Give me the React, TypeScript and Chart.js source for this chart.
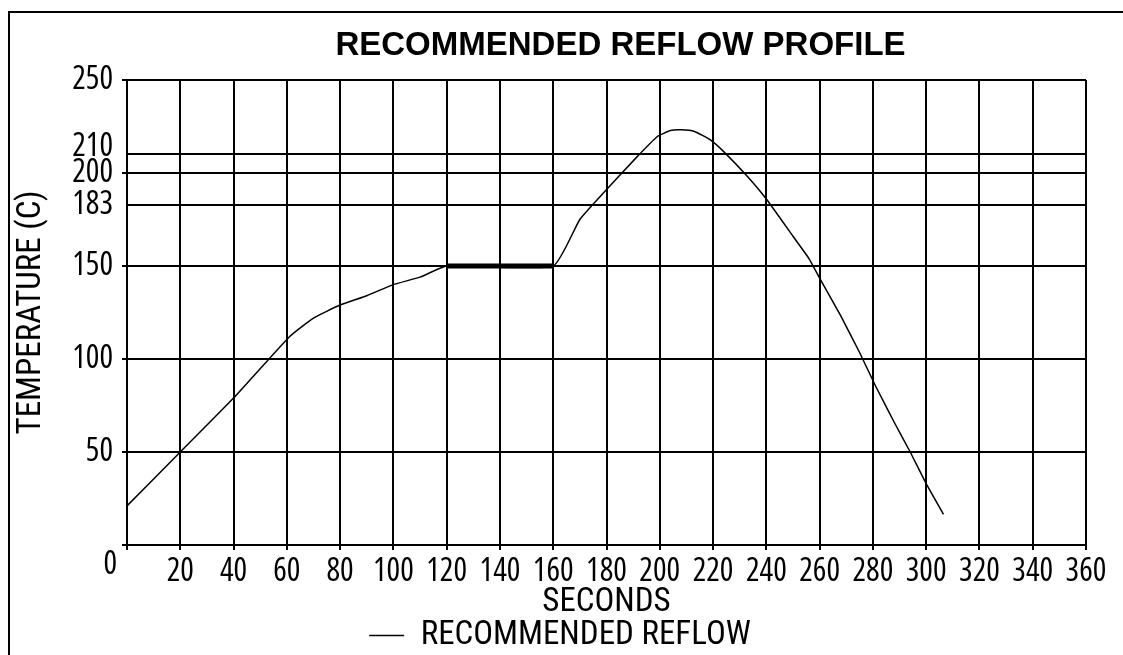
import { useEffect, useRef } from 'react';
import { Chart, registerables } from 'chart.js';

Chart.register(...registerables);

const chartTitle = 'RECOMMENDED REFLOW PROFILE';
const xAxisTitle = 'SECONDS';
const yAxisTitle = 'TEMPERATURE (C)';
const seriesLabel = 'RECOMMENDED REFLOW';

const seconds = [0, 20, 40, 61, 70, 80, 90, 100, 110, 120, 160, 170, 179, 191, 199, 204, 208, 213, 219, 224, 233, 240, 250, 256, 260, 268, 275, 281, 288, 294, 300, 306.5];
const temperature = [21, 50, 79, 112, 122, 129, 134, 140, 144, 150, 150, 175, 189.5, 208, 219.5, 222.8, 223.2, 222.3, 217.8, 211.5, 198, 186, 166, 154, 143.5, 123, 103.5, 85.5, 66, 50, 33, 16.5];

const soakSeconds = [120, 160];
const soakTemperature = [150, 150];

const yTickValues = [0, 50, 100, 150, 183, 200, 210, 250];
const yTickLabels = ['', '50', '100', '150', '183', '200', '210', '250'];
const yMinorTicks = [183, 210];

const DIGIT_FAMILY = "'Open Sans', 'Roboto Condensed', sans-serif";
const WORD_FAMILY = "'Roboto Condensed', 'Open Sans', sans-serif";

export default function App() {
  const ref = useRef<HTMLCanvasElement | null>(null);

  useEffect(() => {
    if (!ref.current) return;

    const framePlugin = {
      id: 'frame',
      beforeDraw(chart: any) {
        const { ctx } = chart;
        ctx.save();
        ctx.fillStyle = '#fff';
        ctx.fillRect(0, 0, chart.width, chart.height);
        ctx.strokeStyle = '#000';
        ctx.lineWidth = 2;
        ctx.beginPath();
        ctx.moveTo(9, chart.height);
        ctx.lineTo(9, 12);
        ctx.lineTo(chart.width, 12);
        ctx.stroke();
        ctx.restore();
      },
      afterDraw(chart: any) {
        const { ctx, chartArea, scales } = chart;
        ctx.save();
        ctx.fillStyle = '#000';
        ctx.textBaseline = 'middle';
        ctx.textAlign = 'center';
        ctx.font = "bold 33px 'Liberation Sans', Arial, sans-serif";
        ctx.fillText(chartTitle, (chartArea.left + chartArea.right) / 2 + 14, 46);
        ctx.font = `condensed 32px ${DIGIT_FAMILY}`;
        ctx.textAlign = 'right';
        ctx.fillText('0', scales.x.left - 10, scales.y.getPixelForValue(0) + 20);
        ctx.restore();
      },
    };

    const chart = new Chart(ref.current, {
      type: 'line',
      data: {
        datasets: [
          {
            label: seriesLabel,
            data: seconds.map((s, i) => ({ x: s, y: temperature[i] })),
            borderColor: '#000',
            backgroundColor: '#000',
            borderWidth: 1.5,
            pointRadius: 0,
            tension: 0.15,
            fill: false,
          },
          {
            label: 'soak',
            data: soakSeconds.map((s, i) => ({ x: s, y: soakTemperature[i] })),
            borderColor: '#000',
            backgroundColor: '#000',
            borderWidth: 5,
            pointRadius: 0,
            fill: false,
          },
        ],
      },
      options: {
        animation: false,
        responsive: true,
        maintainAspectRatio: false,
        events: [],
        layout: { padding: { left: 34, right: 37, top: 80, bottom: -7 } },
        plugins: {
          title: { display: false },
          tooltip: { enabled: false },
          legend: {
            display: true,
            position: 'bottom',
            labels: {
              color: '#000',
              font: { family: WORD_FAMILY, size: 33, lineHeight: 1 },
              padding: 0,
              usePointStyle: true,
              pointStyle: 'line',
              pointStyleWidth: 35,
              filter: (item: any) => item.datasetIndex === 0,
            },
          },
        },
        scales: {
          x: {
            type: 'linear',
            min: 0,
            max: 360,
            afterFit: (s: any) => { s.height = 74; },
            border: { display: true, color: '#000', width: 2 },
            grid: { color: '#000', lineWidth: 2, tickLength: 5, tickColor: '#000', drawTicks: true },
            ticks: {
              stepSize: 20,
              autoSkip: false,
              maxRotation: 0,
              color: '#000',
              padding: 3,
              font: { family: DIGIT_FAMILY, weight: 'condensed', size: 32 },
              callback: (v: any) => (v === 0 ? '' : String(v)),
            },
            title: {
              display: true,
              text: xAxisTitle,
              color: '#000',
              font: { family: WORD_FAMILY, size: 33, lineHeight: 1 },
              padding: { top: 0, bottom: 0 },
            },
          },
          y: {
            type: 'linear',
            min: 0,
            max: 250,
            afterFit: (s: any) => { s.width = 93; },
            afterBuildTicks: (s: any) => { s.ticks = yTickValues.map((value) => ({ value })); },
            border: { display: true, color: '#000', width: 2 },
            grid: {
              color: '#000',
              lineWidth: 2,
              tickLength: 5,
              tickColor: (c: any) => (c.tick && yMinorTicks.includes(c.tick.value) ? 'rgba(0,0,0,0)' : '#000'),
            },
            ticks: {
              autoSkip: false,
              color: '#000',
              padding: 9,
              font: (c: any) => ({
                family: DIGIT_FAMILY,
                weight: 'condensed',
                size: 32,
                lineHeight: c.tick && c.tick.value === 210 ? '16px' : 1.2,
              }),
              callback: (v: any) => {
                const i = yTickValues.indexOf(Number(v));
                const label = i >= 0 ? yTickLabels[i] : '';
                return Number(v) === 210 ? [label, ''] : label;
              },
            },
            title: {
              display: true,
              text: yAxisTitle,
              color: '#000',
              font: { family: WORD_FAMILY, size: 33, lineHeight: 1 },
              padding: { top: -18.5, bottom: 0 },
            },
          },
        },
      },
      plugins: [framePlugin],
    } as any);

    return () => chart.destroy();
  }, []);

  return (
    <div style={{ position: 'fixed', left: 0, top: 0, width: 1123, height: 655, background: '#fff' }}>
      <canvas ref={ref} />
    </div>
  );
}
